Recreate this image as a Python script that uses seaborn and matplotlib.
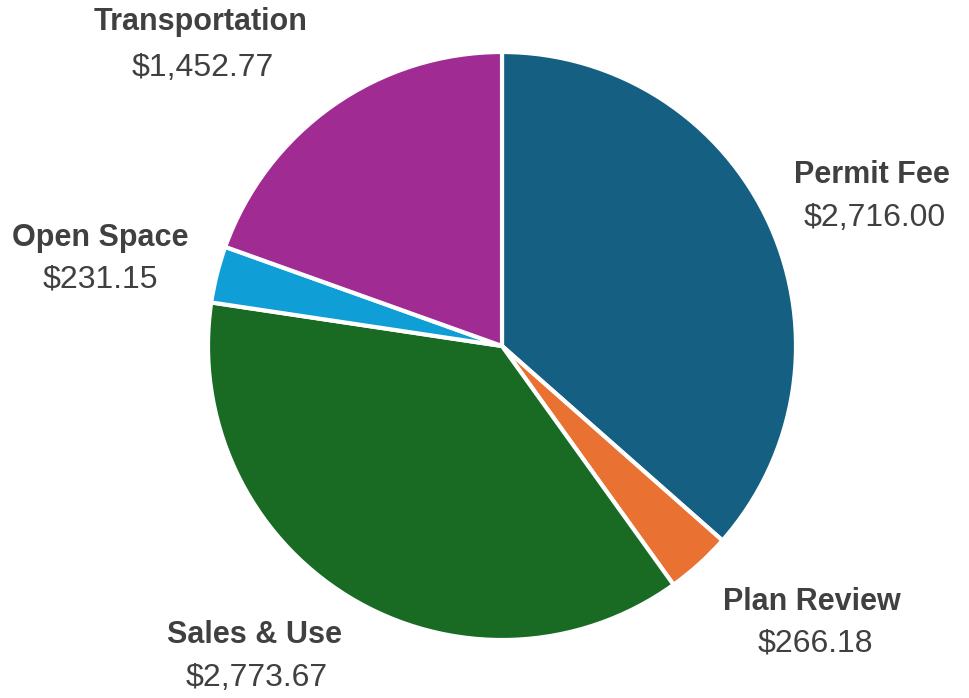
"""
Fee breakdown pie chart.
"""

import matplotlib
matplotlib.use('Agg')
import matplotlib.pyplot as plt
import seaborn as sns

categories = ["Permit Fee", "Plan Review", "Sales & Use", "Open Space", "Transportation"]
amounts    = [2716.00, 266.18, 2773.67, 231.15, 1452.77]
colors     = ["#156082", "#E97132", "#196B24", "#0F9ED5", "#A02B93"]

# label anchor points in pixels (x, y from top): name line, value line
label_pos = {
    "Permit Fee":     ((872, 175), (875, 218)),
    "Plan Review":    ((812, 602), (815, 643)),
    "Sales & Use":    ((255, 635), (257, 678)),
    "Open Space":     ((100, 238), (100, 280)),
    "Transportation": ((201, 22),  (203, 68)),
}

W, H = 969, 698
sns.set_theme(style="white")
plt.rcParams['font.family'] = ['Liberation Sans', 'DejaVu Sans']

fig = plt.figure(figsize=(W / 100, H / 100), dpi=100)
ax = fig.add_axes([0, 0, 1, 1])

ax.pie(
    amounts,
    colors=sns.color_palette(colors),
    startangle=90,
    counterclock=False,
    center=(502, H - 346),
    radius=294,
    wedgeprops=dict(edgecolor='white', linewidth=3),
    frame=True,
)
ax.set_xlim(0, W)
ax.set_ylim(0, H)
ax.set_aspect('equal')
ax.axis('off')

for name, val in zip(categories, amounts):
    (nx, ny), (vx, vy) = label_pos[name]
    ax.text(nx, H - ny, name, ha='center', va='center',
            fontsize=22, fontweight='bold', color='#404040')
    ax.text(vx, H - vy, f"${val:,.2f}", ha='center', va='center',
            fontsize=23, color='#404040')

fig.savefig("out.png", dpi=100, facecolor='white')
plt.close(fig)
